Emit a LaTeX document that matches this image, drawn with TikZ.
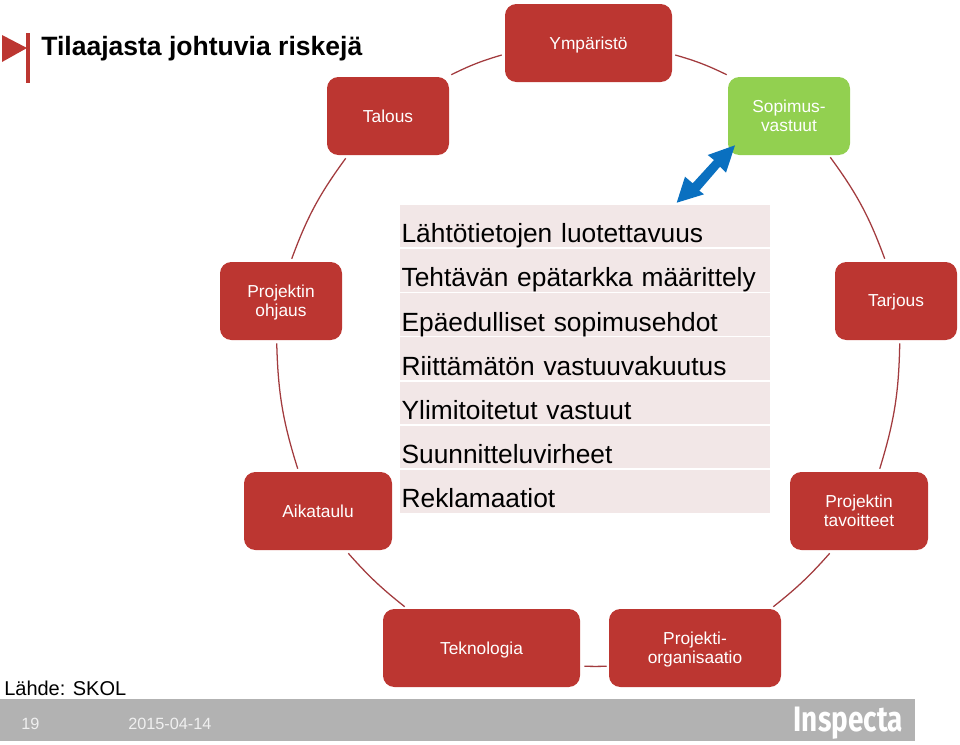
\documentclass[tikz,border=0pt]{standalone}
\usepackage{fontspec}
\setmainfont{Liberation Sans}
\newfontfamily\logofont{Fira Sans}
\usetikzlibrary{calc}
\definecolor{boxred}{HTML}{BC3631}
\definecolor{boxgreen}{HTML}{92D050}
\definecolor{arrowblue}{HTML}{0A70C0}
\definecolor{rowpink}{HTML}{F2E7E7}
\definecolor{linkred}{HTML}{A23B3E}
\definecolor{footgray}{HTML}{B2B2B2}
\definecolor{footwhite}{HTML}{F0F0F0}
\tikzset{
  x=0.75pt,y=-0.75pt,
  riskbox/.style={draw=none,fill=boxred,rounded corners=8.5pt,minimum height=58.5pt,inner sep=0pt,
    text=white,align=center,font=\fontsize{13}{14.5}\selectfont},
  link/.style={draw=linkred,line width=0.95pt},
  row/.style={fill=rowpink,minimum width=277.5pt,minimum height=32pt,inner sep=0pt,anchor=north west,
    text=black,text width=275.5pt,text height=28.2pt,text depth=3.4pt,align=left,font=\fontsize{19.75}{24}\selectfont},
}
\newcommand{\riskbox}[7][boxred]{% colour, name, x1, y1, x2, y2, text
  \node[riskbox,fill=#1,minimum width={(#5-#3)*0.75pt}] (#2) at ({(#3+#5)/2},{(#4+#6)/2}) {#7};}
\begin{document}
\begin{tikzpicture}
\useasboundingbox (0,0) rectangle (960,744);
% title and flag
\fill[boxred] (2,35) -- (27,48) -- (2,62) -- cycle;
\fill[boxred] (26,33) rectangle (30,83);
\node[anchor=west,inner sep=0pt,font=\bfseries\fontsize{19.9}{22}\selectfont] (title) at (41,49) {Tilaajasta johtuvia riskejä};
% boxes
\riskbox{ymp}{505}{4}{672}{82}{\rule{0pt}{12.5pt}Ympäristö}
\riskbox{tal}{327}{77}{449}{155}{Talous}
\riskbox[boxgreen]{sop}{728}{77}{850}{155}{Sopimus-\\vastuut}
\riskbox{ohj}{220}{262}{342}{340}{\rule{0pt}{12pt}Projektin\\ohjaus}
\riskbox{tar}{835}{262}{957}{340}{\rule{0pt}{10.9pt}Tarjous}
\riskbox{aik}{244}{472}{392}{550}{Aikataulu}
\riskbox{tav}{790}{472}{928}{550}{Projektin\\tavoitteet}
\riskbox{tek}{383}{609}{580}{687}{\rule{0pt}{12.4pt}Teknologia}
\riskbox{org}{609}{609}{781}{687}{\rule{0pt}{12pt}Projekti-\\organisaatio}
% ring of connectors
\draw[link] ([shift={(2,-2)}]tal.north east) to[bend left=5] ([shift={(-3,12)}]ymp.west);
\draw[link] ([shift={(3,12)}]ymp.east) to[bend left=5] ([shift={(-1,-2)}]sop.north west);
\draw[link] ([shift={(-20,2)}]sop.south east) to[bend left=8] ([shift={(50,-3)}]tar.north west);
\draw[link] ([shift={(65,3)}]tar.south west) to[bend left=8] ([shift={(90,-3)}]tav.north west);
\draw[link] ([shift={(40,3)}]tav.south west) to[bend left=5] ([shift={(-8,-2)}]org.north east);
\draw[link] ([shift={(-2,-21)}]org.south west) to[bend left=1] ([shift={(4,-21)}]tek.south east);
\draw[link] ([shift={(22,-2)}]tek.north west) to[bend left=5] ([shift={(-44,3)}]aik.south east);
\draw[link] ([shift={(54,-3)}]aik.north west) to[bend left=8] ([shift={(57,3)}]ohj.south west);
\draw[link] ([shift={(72,-3)}]ohj.north west) to[bend left=8] ([shift={(19,3)}]tal.south west);
% table
\node[row] (r1) at (400,204.5) {Lähtötietojen luotettavuus};
\node[row] (r2) at (400,248.7) {Tehtävän epätarkka määrittely};
\node[row] (r3) at (400,292.9) {Epäedulliset sopimusehdot};
\node[row] (r4) at (400,337.1) {Riittämätön vastuuvakuutus};
\node[row] (r5) at (400,381.3) {Ylimitoitetut vastuut};
\node[row] (r6) at (400,425.5) {Suunnitteluvirheet};
\node[row] (r7) at (400,469.7) {Reklamaatiot};
% double arrow
\fill[arrowblue] (676.7,202.7) -- (685,176.7) -- (692.7,183.3) -- (714,160) -- (707.7,155) -- (735,145.3)
  -- (726,172.7) -- (720,166.7) -- (699.3,190.7) -- (704,194.3) -- cycle;
% footer
\node[anchor=west,inner sep=0pt,font=\fontsize{15}{17}\selectfont] (src) at (4,688) {Lähde: SKOL};
\fill[footgray] (0,699) rectangle (915,741);
\node[anchor=west,inner sep=0pt,text=footwhite,font=\fontsize{12.2}{14}\selectfont] (pg) at (21,724) {19};
\node[anchor=west,inner sep=0pt,text=footwhite,font=\fontsize{12.2}{14}\selectfont] (dt) at (128,724) {2015-04-14};
\node[anchor=east,inner sep=0pt,text=white] (logo) at (903,723) {\scalebox{0.79}[1]{\logofont\bfseries\fontsize{26.5}{28}\selectfont Inspecta}};
\end{tikzpicture}
\end{document}
